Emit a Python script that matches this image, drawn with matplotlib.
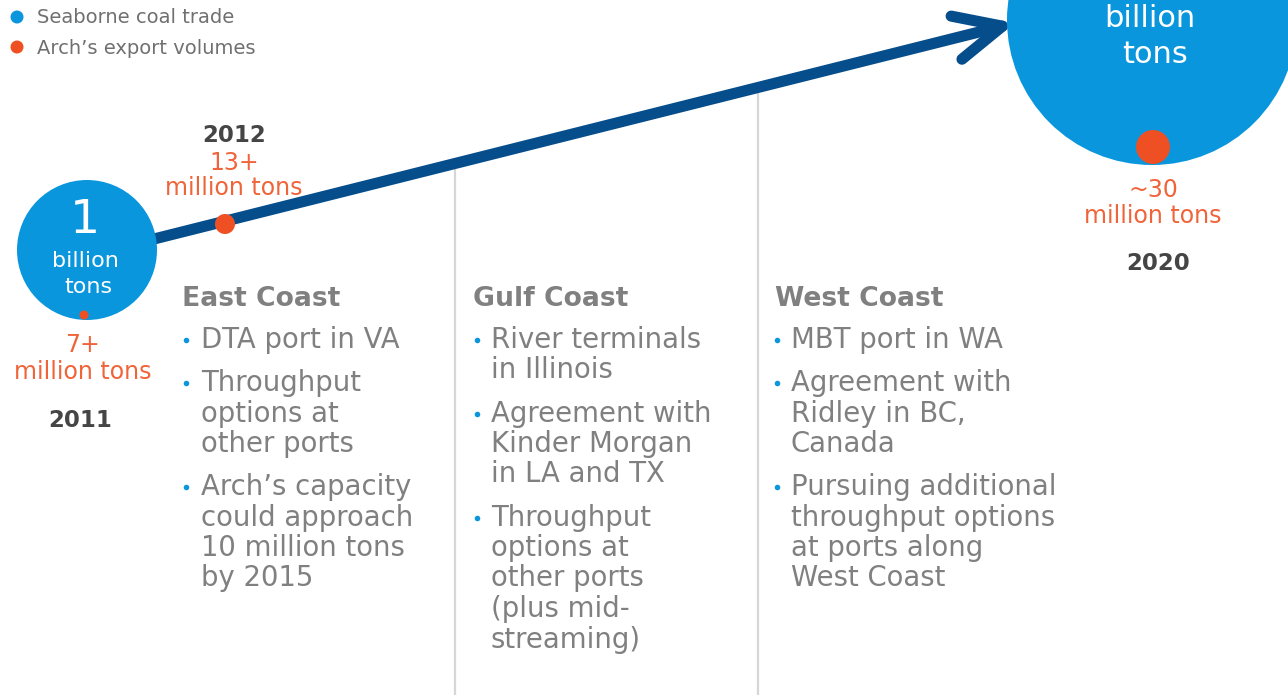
import matplotlib.pyplot as plt
from matplotlib.patches import Circle, FancyArrowPatch

# legend entries
legend_labels = ['Seaborne coal trade', 'Arch’s export volumes']

# milestones
years = ['2011', '2012', '2020']
export_volumes = ['7+', '13+', '~30']
export_unit = 'million tons'
trade_2011 = '1'
trade_unit = ['billion', 'tons']

# port regions and bullets
regions = ['East Coast', 'Gulf Coast', 'West Coast']
east_bullets = ['DTA port in VA',
                'Throughput\noptions at\nother ports',
                'Arch’s capacity\ncould approach\n10 million tons\nby 2015']
gulf_bullets = ['River terminals\nin Illinois',
                'Agreement with\nKinder Morgan\nin LA and TX',
                'Throughput\noptions at\nother ports\n(plus mid-\nstreaming)']
west_bullets = ['MBT port in WA',
                'Agreement with\nRidley in BC,\nCanada',
                'Pursuing additional\nthroughput options\nat ports along\nWest Coast']

LIGHT_BLUE = '#0A96DC'
DARK_BLUE = '#064D8C'
ORANGE = '#EE5024'
ORANGE_TXT = '#F0643A'
GRAY_TXT = '#808080'
DARK_TXT = '#454545'

fig = plt.figure(figsize=(12.88, 6.95), dpi=100)
ax = fig.add_axes([0, 0, 1, 1])
ax.set_xlim(0, 1288)
ax.set_ylim(695, 0)
ax.axis('off')

# legend
for i, (lab, col) in enumerate(zip(legend_labels, [LIGHT_BLUE, ORANGE])):
    ax.add_patch(Circle((17, 17 + 30 * i), 6.5, color=col, lw=0))
    ax.text(37, 23 + 31 * i, lab, fontsize=14, color='#707070', va='baseline')

# separator lines
ax.plot([455, 455], [170, 695], color='#D6D6D6', lw=1.6, zorder=1)
ax.plot([758, 758], [92, 695], color='#D6D6D6', lw=1.6, zorder=1)

# growth arrow
arrow = FancyArrowPatch((150, 240), (1015, 23),
                        arrowstyle='->,head_length=1.7,head_width=0.8',
                        mutation_scale=20, lw=8, color=DARK_BLUE,
                        capstyle='round', joinstyle='round',
                        shrinkA=0, shrinkB=0, zorder=2)
ax.add_patch(arrow)

# seaborne trade circles
ax.add_patch(Circle((87, 250), 70, color=LIGHT_BLUE, lw=0, zorder=3))
ax.add_patch(Circle((1152, 20), 145, color=LIGHT_BLUE, lw=0, zorder=3))

ax.text(85, 233, trade_2011, fontsize=34, color='white', ha='center',
        va='baseline', zorder=4)
ax.text(85, 267, trade_unit[0], fontsize=16, color='white', ha='center',
        va='baseline', zorder=4)
ax.text(88, 293, trade_unit[1], fontsize=16, color='white', ha='center',
        va='baseline', zorder=4)
ax.text(1150, 27, trade_unit[0], fontsize=22, color='white', ha='center',
        va='baseline', zorder=4)
ax.text(1155, 63, trade_unit[1], fontsize=22, color='white', ha='center',
        va='baseline', zorder=4)

# export dots
dots = [((84, 315), 4.5), ((225, 224), 10), ((1153, 147), 17)]
for (c, r) in dots:
    ax.add_patch(Circle(c, r, color=ORANGE, lw=0, zorder=5))

# export labels and years
labels_pos = [(83, 352, 379, 80, 427),
              (234, 170, 195, 234, 142),
              (1153, 197, 223, 1158, 270)]
for (x, yv, yu, xy, yy), vol, yr in zip(labels_pos, export_volumes, years):
    ax.text(x, yv, vol, fontsize=17, color=ORANGE_TXT, ha='center', va='baseline')
    ax.text(x, yu, export_unit, fontsize=17, color=ORANGE_TXT, ha='center',
            va='baseline')
    ax.text(xy, yy, yr, fontsize=16.5, color=DARK_TXT, ha='center',
            va='baseline', fontweight='bold')

# region columns
cols = [(182, 186, 201, east_bullets),
        (473, 477, 491, gulf_bullets),
        (775, 777, 791, west_bullets)]
line_h = 30.5
bullet_gap = 12.5
for name, (hx, bx, tx, bullets) in zip(regions, cols):
    ax.text(hx, 306, name, fontsize=19.2, color=GRAY_TXT, fontweight='bold',
            va='baseline')
    y = 348
    for b in bullets:
        ax.plot(bx, y - 8, 'o', color=LIGHT_BLUE, ms=4, mew=0)
        for line in b.split('\n'):
            ax.text(tx, y, line, fontsize=19.8, color=GRAY_TXT, va='baseline')
            y += line_h
        y += bullet_gap

fig.savefig('out.png', dpi=100)
